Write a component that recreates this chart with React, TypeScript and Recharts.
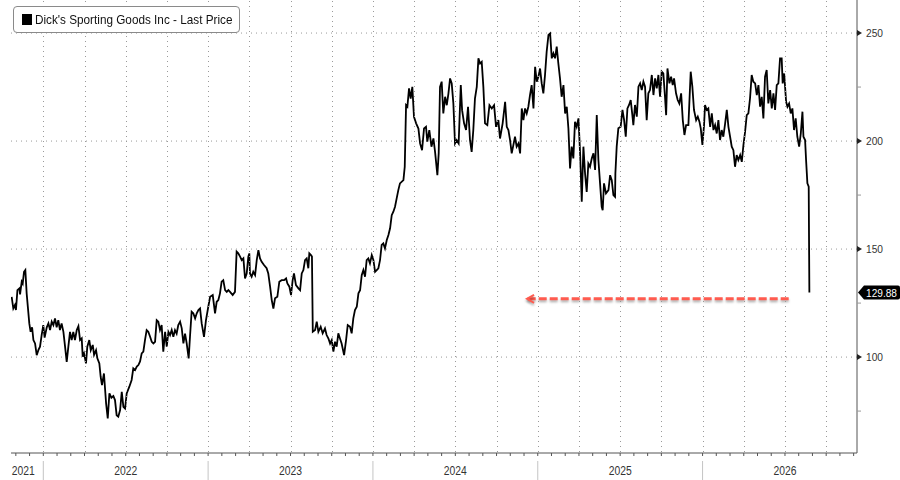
import React from "react";
import { LineChart, Line, XAxis, YAxis, ReferenceLine, ReferenceDot } from "recharts";

type Pt = [number, number];

// [fractional year, last price]
const seg2021: Pt[] = [
  [2021.808, 127.9], [2021.818, 122.5], [2021.828, 124.1], [2021.834, 121.8], [2021.843, 131.0], [2021.855, 131.8],
  [2021.859, 129.0], [2021.869, 134.9], [2021.875, 134.0], [2021.883, 139.5], [2021.891, 140.3], [2021.899, 129.5],
  [2021.915, 115.6], [2021.923, 111.7], [2021.932, 113.8], [2021.94, 107.9], [2021.95, 106.3], [2021.96, 100.9],
  [2021.97, 103.2], [2021.98, 104.8], [2021.99, 110.2],
];

const seg2022: Pt[] = [
  [2022.0, 114.8], [2022.008, 109.0], [2022.021, 113.8], [2022.031, 115.6], [2022.041, 112.5], [2022.051, 116.4],
  [2022.061, 114.8], [2022.071, 117.9], [2022.081, 113.8], [2022.091, 117.1], [2022.101, 112.5], [2022.111, 115.6],
  [2022.122, 111.7], [2022.132, 104.8], [2022.142, 97.8], [2022.152, 104.8], [2022.162, 111.7], [2022.172, 107.9],
  [2022.182, 111.7], [2022.192, 107.9], [2022.203, 112.5], [2022.213, 114.3], [2022.223, 107.9], [2022.233, 108.7],
  [2022.239, 100.2], [2022.247, 101.7], [2022.259, 97.1], [2022.267, 104.8], [2022.279, 107.9], [2022.288, 103.2],
  [2022.3, 105.6], [2022.308, 101.0], [2022.32, 103.2], [2022.328, 99.4], [2022.34, 97.1], [2022.348, 90.9],
  [2022.356, 87.0], [2022.368, 92.4], [2022.381, 78.6], [2022.391, 71.6], [2022.401, 83.2], [2022.413, 81.2],
  [2022.425, 82.0], [2022.435, 80.1], [2022.445, 73.1], [2022.455, 72.4], [2022.466, 75.5], [2022.476, 83.9],
  [2022.486, 77.0], [2022.496, 76.2], [2022.506, 83.2], [2022.522, 86.3], [2022.536, 89.4], [2022.546, 94.8],
  [2022.557, 94.0], [2022.567, 95.6], [2022.577, 96.3], [2022.587, 98.0], [2022.597, 101.7], [2022.607, 102.5],
  [2022.617, 107.9], [2022.627, 112.5], [2022.637, 111.7], [2022.648, 109.4], [2022.658, 107.1], [2022.668, 106.3],
  [2022.678, 107.1], [2022.688, 117.1], [2022.698, 116.4], [2022.708, 112.5], [2022.718, 114.8], [2022.728, 102.5],
  [2022.739, 111.7], [2022.749, 104.8], [2022.759, 111.7], [2022.769, 110.2], [2022.779, 112.5], [2022.789, 109.4],
  [2022.799, 112.5], [2022.809, 110.9], [2022.819, 114.8], [2022.83, 116.4], [2022.84, 113.3], [2022.85, 106.3],
  [2022.86, 110.9], [2022.87, 106.3], [2022.882, 99.4], [2022.89, 109.4], [2022.9, 121.0], [2022.91, 120.3],
  [2022.921, 117.9], [2022.931, 120.3], [2022.941, 121.8], [2022.951, 122.5], [2022.961, 115.6], [2022.975, 109.4],
  [2022.987, 117.1],
];

const seg2023: Pt[] = [
  [2023.001, 123.3], [2023.012, 127.9], [2023.028, 128.7], [2023.042, 120.2], [2023.052, 125.6], [2023.062, 126.4],
  [2023.072, 129.5], [2023.082, 134.9], [2023.092, 135.6], [2023.103, 131.0], [2023.113, 130.2], [2023.123, 131.0],
  [2023.133, 130.2], [2023.149, 128.7], [2023.163, 130.2], [2023.173, 148.8], [2023.183, 148.0], [2023.194, 146.5],
  [2023.204, 144.9], [2023.214, 145.7], [2023.224, 136.4], [2023.234, 138.7], [2023.244, 146.5], [2023.25, 148.0],
  [2023.254, 138.7], [2023.264, 137.2], [2023.274, 139.5], [2023.285, 138.0], [2023.295, 144.9], [2023.305, 149.5],
  [2023.315, 145.7], [2023.325, 144.1], [2023.339, 142.6], [2023.355, 141.1], [2023.365, 138.7], [2023.376, 132.6],
  [2023.386, 126.4], [2023.396, 122.5], [2023.406, 127.2], [2023.42, 127.9], [2023.432, 134.9], [2023.446, 135.6],
  [2023.461, 135.6], [2023.473, 136.4], [2023.481, 134.1], [2023.493, 132.6], [2023.503, 128.7], [2023.513, 135.6],
  [2023.521, 138.7], [2023.533, 133.3], [2023.548, 131.8], [2023.558, 131.0], [2023.568, 138.7], [2023.578, 140.3],
  [2023.588, 144.9], [2023.598, 145.7], [2023.608, 141.1], [2023.614, 148.0], [2023.624, 147.2], [2023.63, 146.5],
  [2023.635, 111.7], [2023.649, 112.5], [2023.659, 116.4], [2023.669, 111.7], [2023.683, 114.0], [2023.695, 111.0],
  [2023.709, 113.3], [2023.719, 110.2], [2023.73, 108.6], [2023.74, 106.3], [2023.75, 107.9], [2023.76, 102.5],
  [2023.77, 107.1], [2023.78, 104.8], [2023.79, 111.0], [2023.8, 108.6], [2023.81, 106.3], [2023.825, 100.9],
  [2023.837, 107.9], [2023.847, 114.8], [2023.861, 114.0], [2023.871, 111.0], [2023.881, 117.9], [2023.891, 121.8],
  [2023.902, 123.3], [2023.912, 129.5], [2023.922, 131.0], [2023.932, 137.9], [2023.942, 140.3], [2023.952, 137.2],
  [2023.962, 144.9], [2023.972, 145.7], [2023.982, 143.4], [2023.993, 147.2],
];

const seg2024: Pt[] = [
  [2024.003, 144.9], [2024.013, 139.5], [2024.023, 140.3], [2024.033, 141.1], [2024.043, 144.9], [2024.053, 151.9],
  [2024.063, 152.6], [2024.073, 150.3], [2024.084, 154.2], [2024.094, 156.5], [2024.104, 159.6], [2024.114, 165.7],
  [2024.124, 167.3], [2024.134, 169.6], [2024.144, 173.5], [2024.154, 177.3], [2024.164, 180.4], [2024.185, 181.9],
  [2024.193, 188.1], [2024.201, 216.6], [2024.209, 215.9], [2024.219, 224.4], [2024.229, 219.7], [2024.239, 225.1],
  [2024.249, 211.2], [2024.262, 208.2], [2024.276, 205.8], [2024.286, 198.9], [2024.298, 195.8], [2024.31, 205.8],
  [2024.322, 206.6], [2024.33, 199.7], [2024.342, 205.1], [2024.355, 197.4], [2024.367, 201.2], [2024.377, 195.0],
  [2024.391, 184.2], [2024.399, 194.3], [2024.407, 225.1], [2024.417, 227.5], [2024.427, 212.8], [2024.438, 220.5],
  [2024.448, 216.6], [2024.458, 222.0], [2024.468, 229.0], [2024.478, 226.7], [2024.488, 217.4], [2024.498, 198.9],
  [2024.508, 200.4], [2024.52, 198.9], [2024.533, 225.9], [2024.541, 214.3], [2024.553, 208.2], [2024.565, 205.1],
  [2024.577, 215.9], [2024.589, 200.4], [2024.599, 195.0], [2024.609, 205.1], [2024.619, 219.7], [2024.63, 225.1],
  [2024.64, 238.3], [2024.65, 235.9], [2024.66, 236.7], [2024.67, 225.1], [2024.68, 208.2], [2024.694, 207.4],
  [2024.707, 216.6], [2024.721, 215.1], [2024.735, 216.6], [2024.747, 206.6], [2024.761, 209.7], [2024.771, 201.2],
  [2024.787, 208.2], [2024.802, 218.2], [2024.812, 206.6], [2024.822, 205.1], [2024.832, 200.4], [2024.842, 194.3],
  [2024.852, 198.1], [2024.862, 202.0], [2024.872, 197.4], [2024.883, 198.9], [2024.893, 194.3], [2024.903, 215.1],
  [2024.913, 209.7], [2024.923, 215.1], [2024.933, 212.8], [2024.943, 215.9], [2024.953, 221.3], [2024.963, 225.9],
  [2024.974, 215.1], [2024.984, 234.4], [2024.994, 227.5],
];

const seg2025: Pt[] = [
  [2025.004, 229.8], [2025.014, 233.6], [2025.024, 226.7], [2025.034, 222.1], [2025.044, 230.5], [2025.054, 241.3],
  [2025.065, 249.1], [2025.075, 249.8], [2025.085, 238.3], [2025.095, 240.6], [2025.105, 238.3], [2025.115, 243.7],
  [2025.125, 235.9], [2025.135, 229.0], [2025.145, 220.5], [2025.156, 225.9], [2025.166, 212.8], [2025.176, 215.9],
  [2025.186, 205.8], [2025.196, 187.3], [2025.206, 197.4], [2025.216, 192.0], [2025.226, 208.9], [2025.236, 206.6],
  [2025.247, 210.5], [2025.257, 194.3], [2025.267, 171.9], [2025.277, 197.4], [2025.287, 185.0], [2025.297, 176.5],
  [2025.307, 189.6], [2025.317, 188.1], [2025.328, 192.0], [2025.338, 194.3], [2025.348, 186.6], [2025.358, 212.0],
  [2025.368, 191.2], [2025.378, 180.4], [2025.388, 169.6], [2025.394, 168.0], [2025.402, 180.4], [2025.414, 175.8],
  [2025.429, 177.3], [2025.439, 184.2], [2025.449, 181.9], [2025.459, 175.0], [2025.469, 174.2], [2025.471, 185.0],
  [2025.479, 197.4], [2025.489, 205.9], [2025.503, 206.6], [2025.514, 214.4], [2025.524, 209.7], [2025.534, 202.0],
  [2025.544, 215.1], [2025.554, 216.7], [2025.564, 219.0], [2025.574, 212.0], [2025.58, 207.4], [2025.59, 216.7],
  [2025.601, 211.3], [2025.611, 225.2], [2025.621, 226.7], [2025.631, 223.6], [2025.641, 227.5], [2025.651, 225.2],
  [2025.661, 209.7], [2025.671, 222.1], [2025.681, 223.6], [2025.692, 230.6], [2025.702, 221.3], [2025.712, 229.0],
  [2025.722, 224.4], [2025.732, 230.6], [2025.742, 220.5], [2025.752, 232.1], [2025.762, 231.3], [2025.772, 220.5],
  [2025.779, 212.0], [2025.787, 233.6], [2025.799, 226.7], [2025.809, 229.8], [2025.819, 225.9], [2025.827, 229.0],
  [2025.839, 222.1], [2025.849, 219.0], [2025.859, 217.4], [2025.87, 222.1], [2025.88, 209.7], [2025.89, 202.8],
  [2025.9, 207.4], [2025.914, 207.4], [2025.928, 232.1], [2025.938, 225.2], [2025.948, 214.4], [2025.961, 209.7],
  [2025.971, 211.3], [2025.981, 209.0], [2025.989, 205.9], [2025.999, 198.2],
];

const seg2026: Pt[] = [
  [2026.009, 207.4], [2026.015, 216.7], [2026.025, 214.4], [2026.035, 215.1], [2026.046, 206.6], [2026.056, 212.8],
  [2026.066, 205.1], [2026.076, 207.4], [2026.086, 203.5], [2026.096, 209.7], [2026.106, 200.5], [2026.116, 205.1],
  [2026.126, 202.0], [2026.137, 208.2], [2026.147, 214.4], [2026.157, 206.6], [2026.167, 202.0], [2026.177, 197.4],
  [2026.187, 195.8], [2026.197, 188.1], [2026.207, 193.5], [2026.217, 191.2], [2026.228, 193.5], [2026.238, 190.4],
  [2026.248, 198.2], [2026.258, 204.3], [2026.268, 212.0], [2026.278, 212.8], [2026.288, 219.8], [2026.298, 230.6],
  [2026.308, 227.5], [2026.319, 226.7], [2026.329, 221.3], [2026.339, 225.9], [2026.349, 215.9], [2026.359, 220.5],
  [2026.369, 210.5], [2026.379, 229.8], [2026.389, 232.9], [2026.399, 217.4], [2026.41, 223.6], [2026.42, 215.1],
  [2026.43, 222.1], [2026.44, 214.4], [2026.45, 225.9], [2026.46, 226.7], [2026.47, 238.3], [2026.48, 238.3],
  [2026.486, 226.7], [2026.495, 231.3], [2026.507, 218.2], [2026.515, 215.9], [2026.525, 217.4], [2026.535, 212.8],
  [2026.545, 215.1], [2026.555, 205.1], [2026.565, 210.5], [2026.575, 202.0], [2026.586, 197.4], [2026.596, 203.5],
  [2026.606, 213.6], [2026.612, 202.0], [2026.622, 200.5], [2026.628, 191.2], [2026.636, 180.4], [2026.644, 178.9],
  [2026.648, 129.88],
];

const lastPrice = 129.88;
const yearLabels = ["2021", "2022", "2023", "2024", "2025", "2026"];
const priceTicks = [75, 100, 125, 150, 175, 200, 225, 250];
const labelledPrices = [100, 150, 200, 250];
// red dashed arrow pointing back to where the price last stood this low
const arrowFrom = 2026.527;
const arrowTo = 2024.935;
const arrowLevel = 127.0;

const X_MIN = 2021.804;
const X_MAX = 2026.937;
const Y_MIN = 55.6;
const Y_MAX = 265.3;

const data = [...seg2021, ...seg2022, ...seg2023, ...seg2024, ...seg2025, ...seg2026].map(([t, price]) => ({ t, price }));

const monthTicks: number[] = [];
yearLabels.forEach((label) => {
  const yr = Number(label);
  for (let m = 0; m < 12; m++) {
    const v = yr + m / 12;
    if (v >= X_MIN && v <= X_MAX) monthTicks.push(Number(v.toFixed(4)));
  }
});

const FONT = "'Liberation Sans', Arial, sans-serif";
const GRID = "#9a9a9a";

function MonthTick(props: any) {
  const { x, y, payload, index } = props;
  const v = payload.value as number;
  const yr = Math.floor(v + 1e-6);
  const m = Math.round((v - yr) * 12);
  const gx = Math.round(x) + 0.5;
  return (
    <g>
      {/* quarterly dotted grid, from the axis up to the top of the plot */}
      {m % 3 === 0 && <line x1={gx} x2={gx} y1={y - 1} y2={0} stroke={GRID} strokeWidth={1} strokeDasharray="1 4" />}
      <line x1={x} x2={x} y1={y} y2={y + 3} stroke="#555" strokeWidth={1} />
      {m === 0 && <line x1={x} x2={x} y1={y + 8} y2={y + 28} stroke="#c4c4c4" strokeWidth={1} />}
      {m === 6 && (
        <text x={x} y={y + 22} textAnchor="middle" fontFamily={FONT} fontSize={12} fill="#333" textLength={23} lengthAdjust="spacingAndGlyphs">
          {String(yr)}
        </text>
      )}
      {index === 0 && (
        <text x={x - 4} y={y + 22} textAnchor="start" fontFamily={FONT} fontSize={12} fill="#333" textLength={23} lengthAdjust="spacingAndGlyphs">
          {yearLabels[0]}
        </text>
      )}
    </g>
  );
}

function PriceTick(props: any) {
  const { x, y, payload } = props;
  const v = payload.value as number;
  if (labelledPrices.includes(v)) {
    return (
      <g>
        <path d={`M${x},${y - 3} L${x + 5},${y} L${x},${y + 3} Z`} fill="#222" />
        <text x={x + 9} y={y + 4} fontFamily={FONT} fontSize={11.5} fill="#333" textLength={17} lengthAdjust="spacingAndGlyphs">
          {v}
        </text>
      </g>
    );
  }
  return <line x1={x} x2={x + 4} y1={y} y2={y} stroke="#999" strokeWidth={1} />;
}

function PriceTag(props: any) {
  const { cx, cy } = props;
  const l = cx + 1;
  return (
    <g>
      <path
        d={`M${l},${cy} L${l + 6},${cy - 7} L${l + 40},${cy - 7} Q${l + 42},${cy - 7} ${l + 42},${cy - 5} L${l + 42},${cy + 5} Q${l + 42},${cy + 7} ${l + 40},${cy + 7} L${l + 6},${cy + 7} Z`}
        fill="#000"
      />
      <text x={l + 8} y={cy + 4} fontFamily={FONT} fontSize={11.5} fill="#fff" textLength={31} lengthAdjust="spacingAndGlyphs">
        {lastPrice.toFixed(2)}
      </text>
    </g>
  );
}

function ArrowHead(props: any) {
  const { cx, cy } = props;
  return (
    <path
      d={`M${cx + 7},${cy - 4} L${cx},${cy} L${cx + 7},${cy + 4}`}
      stroke="#ff5b4f"
      strokeWidth={2}
      fill="none"
      className="red-arrow"
    />
  );
}

export default function App() {
  return (
    <div style={{ position: "absolute", left: 0, top: 0, width: 900, height: 480, background: "#fff" }}>
      <style>{`line[stroke="#ff5b4f"], .red-arrow { filter: drop-shadow(0px 2px 1.2px rgba(0,0,0,0.3)); }`}</style>
      <LineChart width={900} height={480} data={data} margin={{ top: 0, right: 0, bottom: 0, left: 11 }}>
        <XAxis
          dataKey="t"
          type="number"
          domain={[X_MIN, X_MAX]}
          ticks={monthTicks}
          interval={0}
          allowDataOverflow
          height={27}
          tickSize={0}
          tickMargin={0}
          axisLine={{ stroke: "#555" }}
          tickLine={false}
          tick={<MonthTick />}
        />
        <YAxis
          orientation="right"
          type="number"
          domain={[Y_MIN, Y_MAX]}
          ticks={priceTicks}
          interval={0}
          allowDataOverflow
          width={43}
          tickSize={0}
          tickMargin={0}
          axisLine={{ stroke: "#555" }}
          tickLine={false}
          tick={<PriceTick />}
        />
        {labelledPrices.map((p) => (
          <ReferenceLine key={`p${p}`} y={p} stroke={GRID} strokeWidth={1} strokeDasharray="1 4" />
        ))}
        <ReferenceLine
          segment={[
            { x: arrowTo + 0.004, y: arrowLevel },
            { x: arrowFrom, y: arrowLevel },
          ]}
          stroke="#ff5b4f"
          strokeWidth={3}
          strokeDasharray="8 3"
        />
        <ReferenceDot x={arrowTo} y={arrowLevel} r={0} shape={<ArrowHead />} />
        <Line type="linear" dataKey="price" stroke="#000" strokeWidth={1.8} dot={false} activeDot={false} isAnimationActive={false} />
        <ReferenceDot x={X_MAX} y={lastPrice} r={0} shape={<PriceTag />} />
      </LineChart>
      <div
        style={{
          position: "absolute",
          left: 13,
          top: 6,
          width: 227,
          height: 27,
          boxSizing: "border-box",
          border: "1px solid #8a8a8a",
          borderRadius: 4,
          background: "#fff",
          display: "flex",
          alignItems: "center",
          paddingLeft: 8,
          fontFamily: FONT,
          fontSize: 13.5,
          color: "#111",
          whiteSpace: "nowrap",
          overflow: "hidden",
        }}
      >
        <span style={{ display: "inline-block", flexShrink: 0, width: 10, height: 11, background: "#000", marginRight: 3 }} />
        <span style={{ display: "inline-block", transform: "scaleX(0.87)", transformOrigin: "left center" }}>
          Dick's Sporting Goods Inc - Last Price
        </span>
      </div>
    </div>
  );
}
